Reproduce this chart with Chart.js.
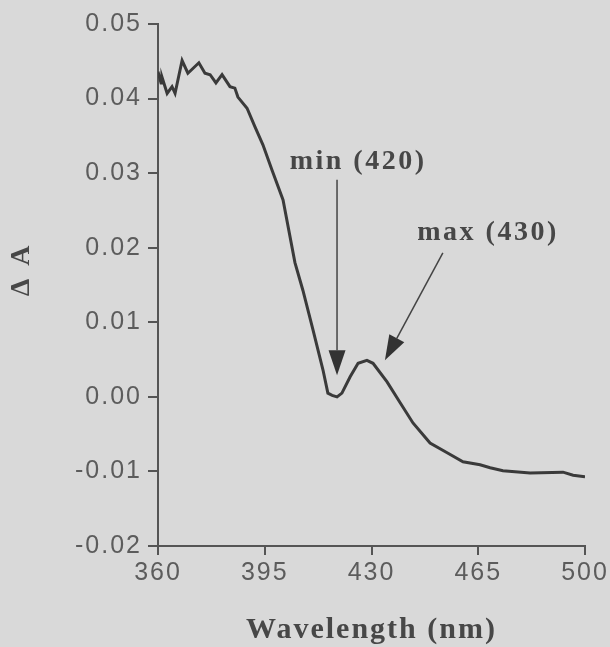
<!DOCTYPE html>
<html>
<head>
<meta charset="utf-8">
<script src="https://cdn.jsdelivr.net/npm/chart.js@4"></script>
<style>
  html, body { margin: 0; padding: 0; background: #d9d9d9; }
  #wrap { width: 610px; height: 647px; }
</style>
</head>
<body>
<div id="wrap"><canvas id="chart" width="610" height="647"></canvas></div>
<script>
// wavelength (nm) and difference absorbance
const wavelengths = [360, 361, 361.3, 363, 364.6, 365.6, 367.9, 369.8, 373.4, 375.4, 377.1, 379, 381, 383.6, 385.2, 386.2, 389.2, 391.8, 394.4, 397.4, 401, 404.9, 407.5, 410.8, 414.1, 415.7, 417.1, 418.7, 420.3, 423, 425.6, 428.5, 430.5, 435.1, 439.4, 443.6, 449.2, 454.8, 460, 465.6, 468.9, 473.1, 482, 492.8, 496.1, 500];
const deltaA = [0.0436, 0.0421, 0.0429, 0.0407, 0.0416, 0.0407, 0.0451, 0.0434, 0.0448, 0.0434, 0.0432, 0.0421, 0.0432, 0.0416, 0.0414, 0.0402, 0.0387, 0.0362, 0.0338, 0.0304, 0.0264, 0.0180, 0.0143, 0.0090, 0.0036, 0.0005, 0.0002, 0.0000, 0.0005, 0.0027, 0.0045, 0.0049, 0.0045, 0.0020, -0.0008, -0.0035, -0.0062, -0.0075, -0.0087, -0.0091, -0.0095, -0.0099, -0.0102, -0.0101, -0.0105, -0.0107];

const xTicks = [360, 395, 430, 465, 500];
const yTicks = [-0.02, -0.01, 0.00, 0.01, 0.02, 0.03, 0.04, 0.05];
const yTitle = 'Δ A';

// labels with arrows, in data units
const notes = [
  { text: 'min (420)', label: [425.6, 0.0315], from: [418.7, 0.0291], to: [418.7, 0.0029] },
  { text: 'max (430)', label: [468.2, 0.0220], from: [453.4, 0.0193], to: [434.4, 0.0049] }
];

const ink = '#3a3a3a';
const axisGrey = '#555555';
const titleFont = 'bold 28px "Liberation Serif"';

const backdrop = {
  id: 'backdrop',
  beforeDraw(chart) {
    const ctx = chart.ctx;
    ctx.save();
    ctx.fillStyle = '#d9d9d9';
    ctx.fillRect(0, 0, chart.width, chart.height);
    ctx.restore();
    ctx.letterSpacing = '2px';
  }
};

const arrows = {
  id: 'arrows',
  afterDraw(chart) {
    const ctx = chart.ctx;
    const xs = chart.scales.x, ys = chart.scales.y;
    const area = chart.chartArea;
    ctx.save();
    notes.forEach(n => {
      const x1 = xs.getPixelForValue(n.from[0]), y1 = ys.getPixelForValue(n.from[1]);
      const x2 = xs.getPixelForValue(n.to[0]), y2 = ys.getPixelForValue(n.to[1]);
      const ang = Math.atan2(y2 - y1, x2 - x1);
      const headLen = 25, headW = 8.5;
      const bx = x2 - headLen * Math.cos(ang), by = y2 - headLen * Math.sin(ang);
      ctx.strokeStyle = '#444';
      ctx.lineWidth = 1.5;
      ctx.beginPath();
      ctx.moveTo(x1, y1);
      ctx.lineTo(bx, by);
      ctx.stroke();
      ctx.fillStyle = '#333';
      ctx.beginPath();
      ctx.moveTo(x2, y2);
      ctx.lineTo(bx + headW * Math.sin(ang), by - headW * Math.cos(ang));
      ctx.lineTo(bx - headW * Math.sin(ang), by + headW * Math.cos(ang));
      ctx.closePath();
      ctx.fill();

      ctx.letterSpacing = '2.5px';
      ctx.font = titleFont;
      ctx.fillStyle = '#474747';
      ctx.textAlign = 'center';
      ctx.textBaseline = 'middle';
      ctx.fillText(n.text, xs.getPixelForValue(n.label[0]), ys.getPixelForValue(n.label[1]));
    });

    // y axis title, sitting a little above the middle like the original
    ctx.translate(22, area.top + (area.bottom - area.top) * 0.47);
    ctx.rotate(-Math.PI / 2);
    ctx.letterSpacing = '3px';
    ctx.font = titleFont;
    ctx.fillStyle = '#474747';
    ctx.textAlign = 'center';
    ctx.textBaseline = 'middle';
    ctx.fillText(yTitle, 0, 0);
    ctx.restore();
  }
};

new Chart(document.getElementById('chart'), {
  type: 'line',
  data: {
    datasets: [{
      data: wavelengths.map((w, i) => ({ x: w, y: deltaA[i] })),
      borderColor: ink,
      borderWidth: 3,
      pointRadius: 0,
      tension: 0,
      fill: false
    }]
  },
  options: {
    responsive: false,
    animation: false,
    layout: { padding: { top: 24, right: 25, left: 0, bottom: 0 } },
    plugins: { legend: { display: false }, tooltip: { enabled: false } },
    scales: {
      x: {
        type: 'linear',
        min: 360,
        max: 500,
        afterBuildTicks: s => { s.ticks = xTicks.map(v => ({ value: v })); },
        afterFit: s => { s.height = 101; },
        ticks: {
          color: '#5c5c5c',
          font: { family: 'Liberation Sans', size: 25 },
          padding: 3,
          maxRotation: 0
        },
        grid: { drawOnChartArea: false, drawTicks: true, tickLength: 9, color: axisGrey, lineWidth: 2 },
        border: { color: axisGrey, width: 2 },
        title: {
          display: true,
          text: 'Wavelength (nm)',
          color: '#474747',
          font: { family: 'Liberation Serif', weight: 'bold', size: 30, lineHeight: 1.1 },
          padding: { top: 0, bottom: 0 }
        }
      },
      y: {
        min: -0.02,
        max: 0.05,
        afterBuildTicks: s => { s.ticks = yTicks.map(v => ({ value: v })); },
        afterFit: s => { s.width = 158; },
        ticks: {
          color: '#5c5c5c',
          font: { family: 'Liberation Sans', size: 25 },
          padding: 6,
          callback: v => v.toFixed(2)
        },
        grid: { drawOnChartArea: false, drawTicks: true, tickLength: 10, color: axisGrey, lineWidth: 2 },
        border: { color: axisGrey, width: 2 }
      }
    }
  },
  plugins: [backdrop, arrows]
});
</script>
</body>
</html>
